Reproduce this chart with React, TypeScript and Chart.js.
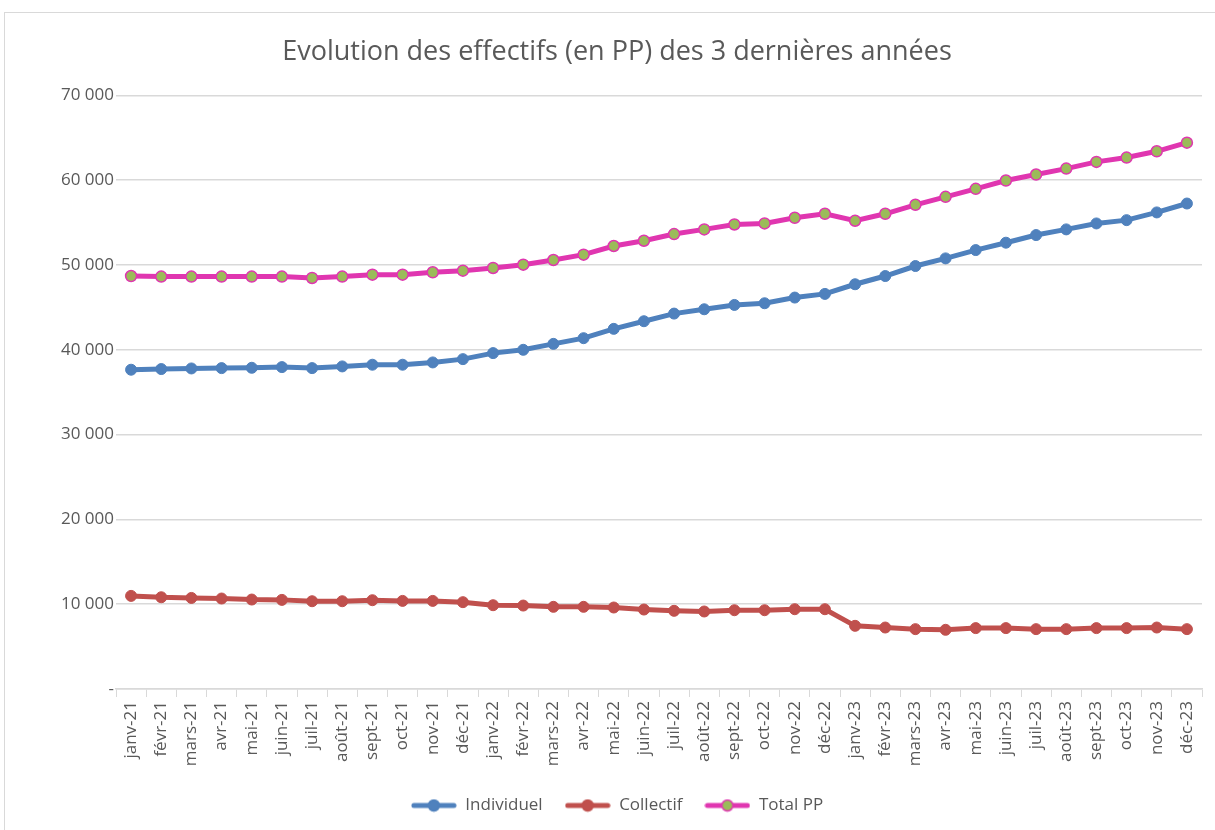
import React, { useEffect, useRef } from "react";
import { Chart, registerables } from "chart.js";

Chart.register(...registerables);

const TITLE = "Evolution des effectifs (en PP) des 3 dernières années";

const months = ["janv", "févr", "mars", "avr", "mai", "juin", "juil", "août", "sept", "oct", "nov", "déc"];
const years = ["21", "22", "23"];
const labels: string[] = [];
years.forEach((y) => months.forEach((m) => labels.push(`${m}-${y}`)));

const individuel = [37650, 37730, 37800, 37840, 37880, 37960, 37840, 38040, 38240, 38240, 38510, 38900,
  39610, 40000, 40700, 41370, 42470, 43370, 44270, 44780, 45290, 45490, 46160, 46590,
  47730, 48700, 49880, 50780, 51760, 52630, 53530, 54200, 54900, 55290, 56200, 57250];

const collectif = [10980, 10820, 10740, 10670, 10550, 10510, 10350, 10350, 10470, 10390, 10390, 10240,
  9880, 9840, 9690, 9690, 9610, 9370, 9220, 9140, 9290, 9290, 9410, 9410,
  7450, 7250, 7060, 6980, 7180, 7180, 7060, 7060, 7180, 7180, 7250, 7060];

const totalPP = [48700, 48630, 48630, 48630, 48630, 48630, 48470, 48630, 48860, 48860, 49140, 49330,
  49650, 50040, 50590, 51220, 52240, 52860, 53650, 54200, 54780, 54900, 55570, 56040,
  55220, 56040, 57100, 58040, 58980, 59960, 60670, 61370, 62160, 62670, 63410, 64430];

const FONT = "'Open Sans', sans-serif";
const TEXT = "#595959";
const GRID = "#d9d9d9";

function legendIcon(line: string, fill: string, border: string) {
  const c = document.createElement("canvas");
  c.width = 46;
  c.height = 14;
  const ctx = c.getContext("2d")!;
  ctx.strokeStyle = line;
  ctx.lineWidth = 5;
  ctx.lineCap = "round";
  ctx.beginPath();
  ctx.moveTo(3, 7);
  ctx.lineTo(43, 7);
  ctx.stroke();
  ctx.beginPath();
  ctx.arc(23, 7, 5.5, 0, Math.PI * 2);
  ctx.fillStyle = fill;
  ctx.fill();
  ctx.lineWidth = 1.5;
  ctx.strokeStyle = border;
  ctx.stroke();
  return c;
}

export default function App() {
  const ref = useRef<HTMLCanvasElement>(null);
  useEffect(() => {
    if (!ref.current) return;
    const icons = [
      legendIcon("#4F81BD", "#4F81BD", "#4F81BD"),
      legendIcon("#C0504D", "#C0504D", "#C0504D"),
      legendIcon("#E036B0", "#9BBB59", "#E036B0"),
    ];
    const chart = new Chart(ref.current, {
      type: "line",
      data: {
        labels,
        datasets: [
          {
            label: "Individuel",
            data: individuel,
            borderColor: "#4F81BD",
            backgroundColor: "#4F81BD",
            pointBackgroundColor: "#4F81BD",
            pointBorderColor: "#4F81BD",
            borderWidth: 5,
            pointRadius: 5.5,
            pointBorderWidth: 1,
            order: 3,
          },
          {
            label: "Collectif",
            data: collectif,
            borderColor: "#C0504D",
            backgroundColor: "#C0504D",
            pointBackgroundColor: "#C0504D",
            pointBorderColor: "#C0504D",
            borderWidth: 5,
            pointRadius: 5.5,
            pointBorderWidth: 1,
            order: 2,
          },
          {
            label: "Total PP",
            data: totalPP,
            borderColor: "#E036B0",
            backgroundColor: "#9BBB59",
            pointBackgroundColor: "#9BBB59",
            pointBorderColor: "#E036B0",
            borderWidth: 5,
            pointRadius: 5.5,
            pointBorderWidth: 1.5,
            order: 1,
          },
        ],
      },
      options: {
        animation: false,
        responsive: false,
        maintainAspectRatio: false,
        layout: { padding: { left: 32, right: 13, top: 8, bottom: 6 } },
        plugins: {
          title: {
            display: true,
            text: TITLE,
            color: TEXT,
            font: { family: FONT, size: 27, weight: "normal" },
            padding: { top: 28, bottom: 27 },
          },
          legend: {
            position: "bottom",
            labels: {
              usePointStyle: true,
              pointStyleWidth: 46,
              color: TEXT,
              font: { family: FONT, size: 17 },
              padding: 22,
              generateLabels: (ch: any) =>
                ch.data.datasets.map((ds: any, i: number) => ({
                  text: ds.label,
                  pointStyle: icons[i],
                  fillStyle: ds.borderColor,
                  strokeStyle: ds.borderColor,
                  lineWidth: 0,
                  hidden: false,
                  datasetIndex: i,
                  fontColor: TEXT,
                })),
            },
          },
          tooltip: { enabled: false },
        },
        scales: {
          x: {
            offset: true,
            grid: {
              offset: true,
              drawOnChartArea: false,
              drawTicks: true,
              tickLength: 8,
              color: GRID,
            },
            border: { display: true, color: GRID, width: 1.5 },
            afterFit: (s: any) => {
              s.height = 86;
            },
            ticks: {
              autoSkip: false,
              maxRotation: 90,
              minRotation: 90,
              color: TEXT,
              font: { family: FONT, size: 17 },
              padding: 4,
            },
          },
          y: {
            min: 0,
            max: 70000,
            grid: { color: GRID, lineWidth: 1.5, drawTicks: false },
            border: { display: false },
            afterFit: (s: any) => {
              s.width = 84;
            },
            ticks: {
              stepSize: 10000,
              color: TEXT,
              font: { family: FONT, size: 17 },
              padding: 2,
              callback: (v: any) =>
                Number(v) === 0 ? "-" : Number(v).toLocaleString("en-US").replace(/,/g, " "),
            },
          },
        },
      },
    });
    return () => chart.destroy();
  }, []);
  return (
    <div style={{ position: "fixed", left: 0, top: 0, width: 1215, height: 830, background: "#fff" }}>
      <div
        style={{
          position: "absolute",
          left: 4,
          top: 12,
          width: 1215,
          height: 830,
          border: "1px solid #d9d9d9",
          boxSizing: "border-box",
        }}
      />
      <canvas ref={ref} width={1215} height={830} style={{ position: "absolute", left: 0, top: 0 }} />
    </div>
  );
}
